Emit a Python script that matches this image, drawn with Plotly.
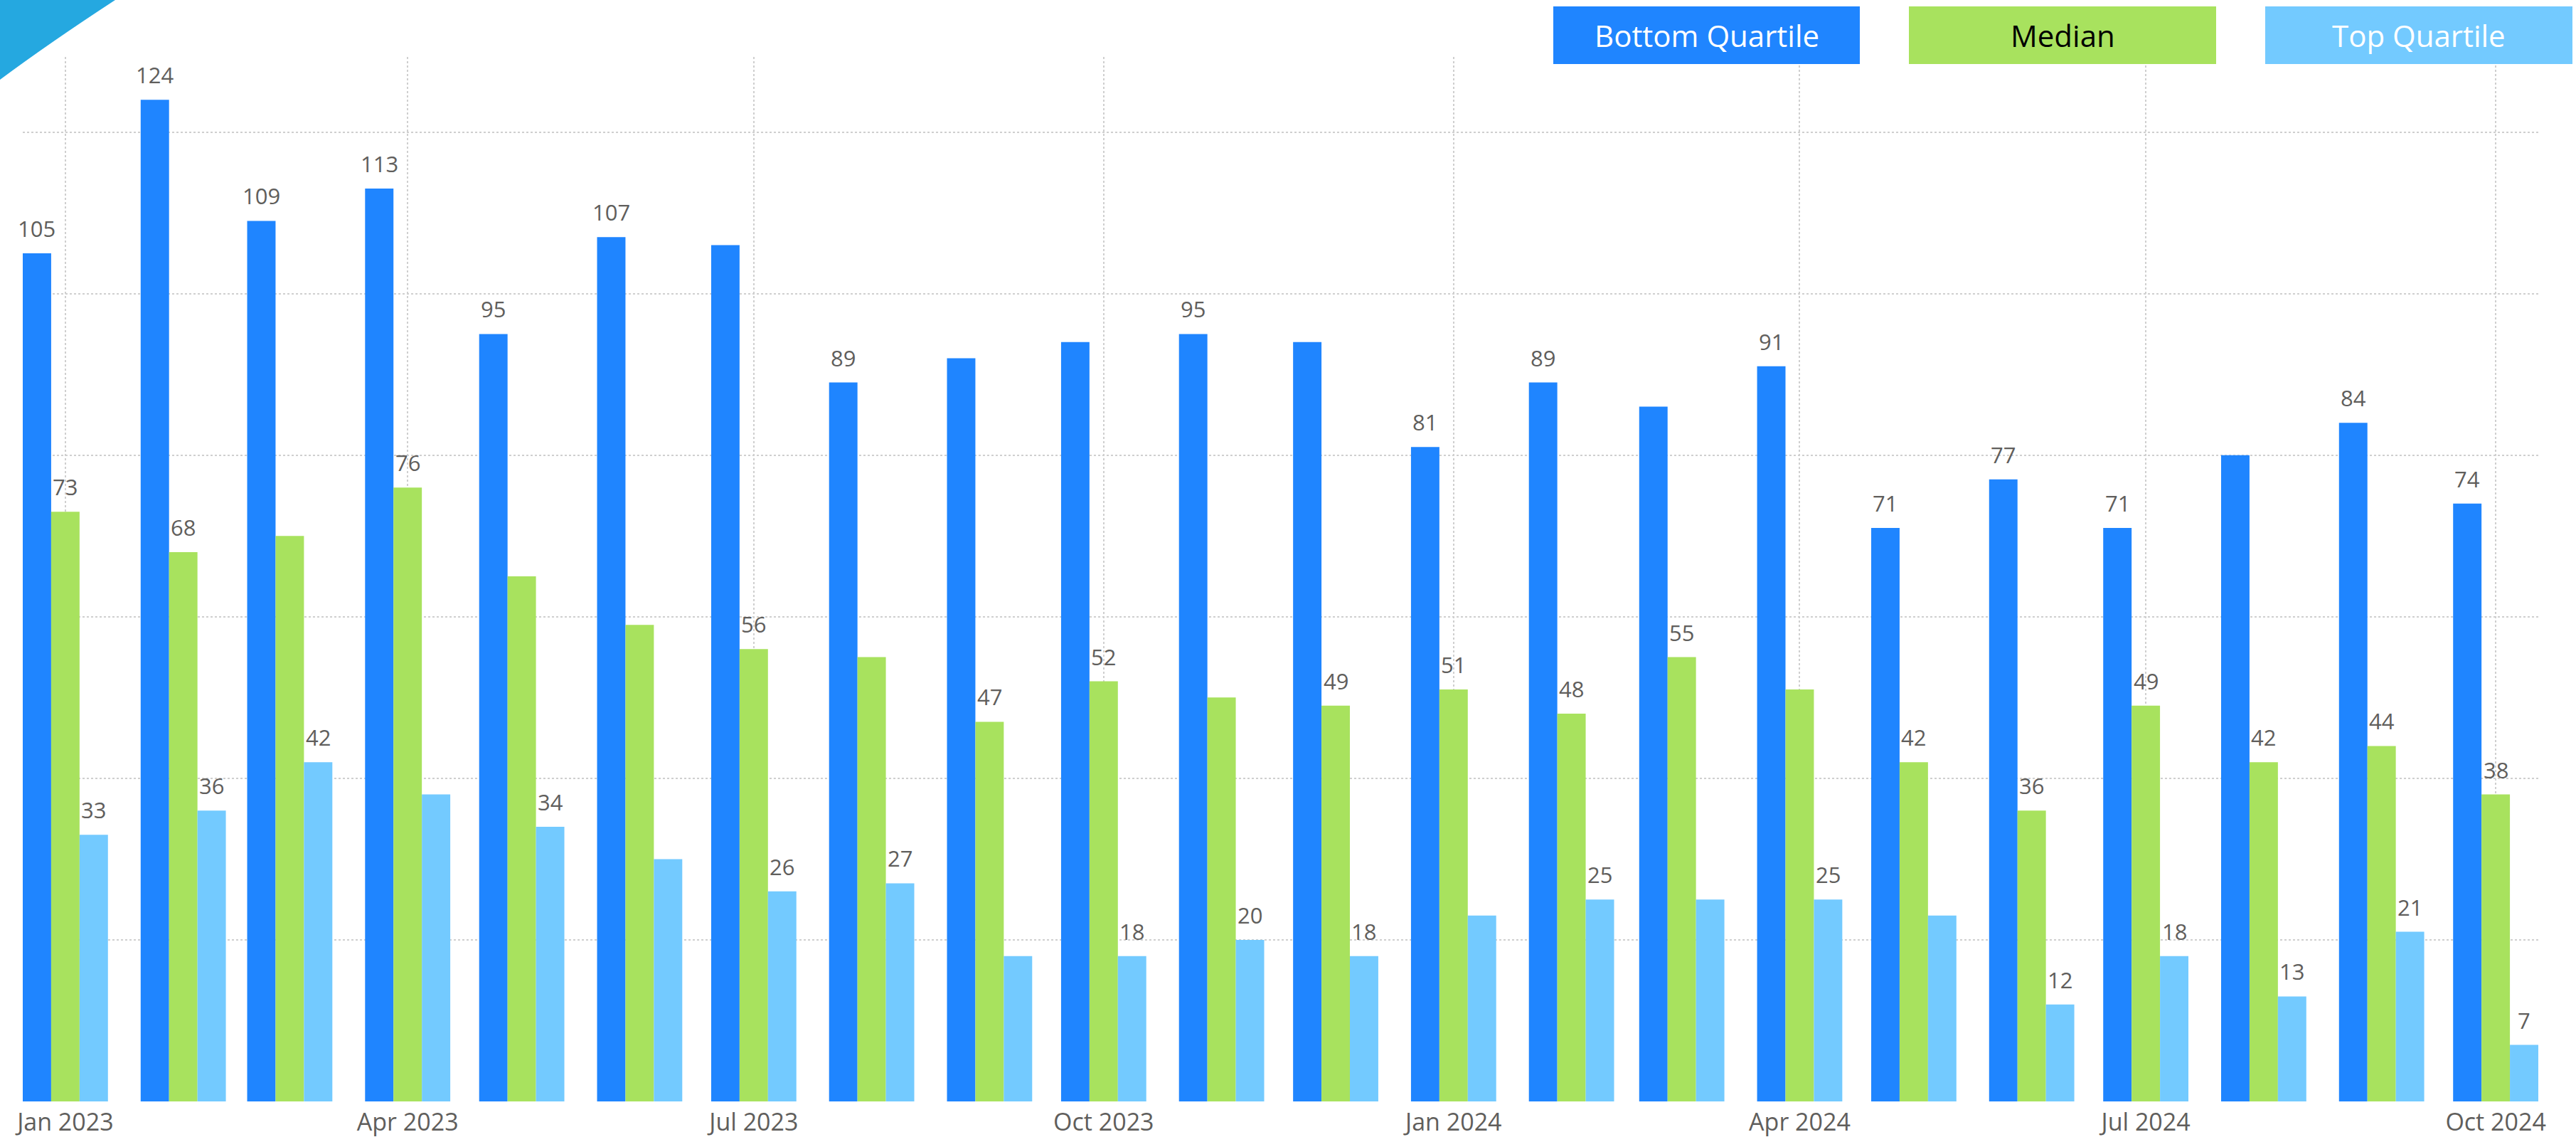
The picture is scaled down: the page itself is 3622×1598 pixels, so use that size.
import plotly.graph_objects as go
import pandas as pd

# ---------------- data ----------------
months = pd.date_range("2023-01-01", "2024-10-01", freq="MS")
series_names = ["Bottom Quartile", "Median", "Top Quartile"]
bottom_quartile = [105, 124, 109, 113, 95, 107, 106, 89, 92, 94, 95, 94,
                   81, 89, 86, 91, 71, 77, 71, 80, 84, 74]
median = [73, 68, 70, 76, 65, 59, 56, 55, 47, 52, 50, 49,
          51, 48, 55, 51, 42, 36, 49, 42, 44, 38]
top_quartile = [33, 36, 42, 38, 34, 30, 26, 27, 18, 18, 20, 18,
                23, 25, 25, 25, 23, 12, 18, 13, 21, 7]
# which data labels are visible in the original (1 = shown)
bottom_shown = [1, 1, 1, 1, 1, 1, 0, 1, 0, 0, 1, 0, 1, 1, 0, 1, 1, 1, 1, 0, 1, 1]
median_shown = [1, 1, 0, 1, 0, 0, 1, 0, 1, 1, 0, 1, 1, 1, 1, 0, 1, 1, 1, 1, 1, 1]
top_shown = [1, 1, 1, 0, 1, 0, 1, 1, 0, 1, 1, 1, 0, 1, 0, 1, 0, 1, 1, 1, 1, 1]

# ---------------- style ----------------
W, H = 3622, 1598
ML, MR, MT, MB = 32, 53, 80, 50
colors = ["#1F85FF", "#A8E25E", "#73CAFF"]
legend_text_colors = ["white", "black", "white"]
label_color = "#605E5C"
FONT = "Segoe UI, Open Sans, sans-serif"
DAY = 86400000
bar_w_days = 22.4 / 3
bar_w = bar_w_days * DAY
pad_days = 11.2

values = [bottom_quartile, median, top_quartile]
shown = [bottom_shown, median_shown, top_shown]

fig = go.Figure()
annotations = []
for k, (name, vals, col, sh) in enumerate(zip(series_names, values, colors, shown)):
    off = (k - 1.5) * bar_w
    fig.add_trace(go.Bar(
        x=months, y=vals, name=name, marker_color=col, marker_line_width=0,
        width=bar_w, offset=off, showlegend=False, hoverinfo="x+y+name",
    ))
    for m, v, s in zip(months, vals, sh):
        if s:
            xc = m + pd.Timedelta(days=(k - 1) * bar_w_days)
            annotations.append(dict(
                x=xc.strftime("%Y-%m-%d %H:%M:%S"), y=v, xref="x", yref="y",
                text=str(v), showarrow=False, yanchor="middle", yshift=35,
                font=dict(family=FONT, size=31, color=label_color),
            ))

plot_w = W - ML - MR
plot_h = H - MT - MB


def px_x(px):
    return (px - ML) / plot_w


def px_y(py):
    return (H - MB - py) / plot_h


shapes = []
# decorative corner triangle
shapes.append(dict(
    type="path", xref="paper", yref="paper", layer="above",
    path="M {x0},{y0} L {x1},{y0} Q {xc},{yc} {x0},{y2} Z".format(
        x0=px_x(0), y0=px_y(0), x1=px_x(162), xc=px_x(70), yc=px_y(60), y2=px_y(112)),
    fillcolor="#25A8E0", line=dict(width=0),
))

# custom legend boxes
legend_boxes = [(2184, 2615), (2684, 3116), (3185, 3617)]
for (x0, x1), name, col, tcol in zip(legend_boxes, series_names, colors, legend_text_colors):
    shapes.append(dict(
        type="rect", xref="paper", yref="paper", layer="above",
        x0=px_x(x0), x1=px_x(x1), y0=px_y(90), y1=px_y(9),
        fillcolor=col, line=dict(width=0),
    ))
    annotations.append(dict(
        x=px_x((x0 + x1) / 2), y=px_y(49.5), xref="paper", yref="paper",
        text=name, showarrow=False, xanchor="center", yanchor="middle",
        font=dict(family=FONT, size=42, color=tcol),
    ))

x_start = (months[0] - pd.Timedelta(days=pad_days)).strftime("%Y-%m-%d %H:%M:%S")
x_end = (months[-1] + pd.Timedelta(days=pad_days)).strftime("%Y-%m-%d %H:%M:%S")

fig.update_layout(
    width=W, height=H,
    margin=dict(l=ML, r=MR, t=MT, b=MB, pad=0, autoexpand=False),
    paper_bgcolor="white", plot_bgcolor="white",
    barmode="overlay",
    shapes=shapes, annotations=annotations,
    font=dict(family=FONT, color=label_color),
    xaxis=dict(
        type="date", range=[x_start, x_end], automargin=False,
        tick0="2023-01-01", dtick="M3", tickformat="%b %Y",
        showgrid=True, gridcolor="#CFCFCF", gridwidth=2, griddash="dot",
        ticks="", showline=False, zeroline=False, ticklabelstandoff=6,
        tickfont=dict(family=FONT, size=34, color=label_color),
    ),
    yaxis=dict(
        range=[0, 129.3], dtick=20, tick0=0, automargin=False,
        showgrid=True, gridcolor="#CFCFCF", gridwidth=2, griddash="dot",
        showticklabels=False, ticks="", zeroline=False, showline=False,
    ),
)

fig.write_html(
    "out.html",
    config={"displayModeBar": False},
    post_script="document.body.style.margin='0';document.body.style.overflow='hidden';",
)
